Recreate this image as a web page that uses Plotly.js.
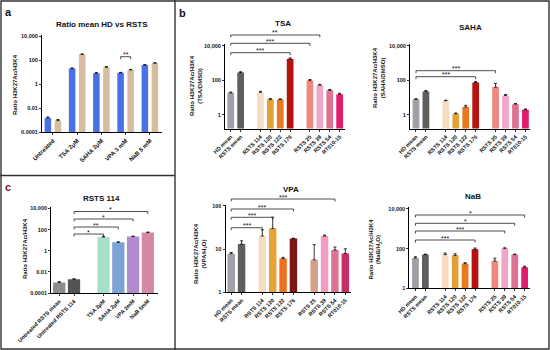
<!DOCTYPE html>
<html><head><meta charset="utf-8">
<script src="https://cdn.plot.ly/plotly-3.0.1.min.js"></script>
<style>html,body{margin:0;padding:0;background:#fff}#chart{width:550px;height:350px}</style>
</head><body><div id="chart"></div>
<script>
// ---------- DATA ----------
// Panel a: Ratio mean HD vs RSTS
const aCategories = ["Untreated", "TSA 2μM", "SAHA 2μM", "VPA 3 mM", "NaB 5 mM"];
const aHDValues = [0.0015, 20, 8, 8.5, 38];
const aHDErrors = [0.0003, 1.5, 0.8, 0.8, 3];
const aRSTSValues = [0.0009, 300, 25, 15, 55];
const aRSTSErrors = [0.0002, 20, 3, 1.5, 4];

// Panel c: RSTS 114
const cCategories = ["Untreated RSTS mean", "Untreated RSTS 114", "TSA 2μM", "SAHA 2μM", "VPA 2mM", "NaB 5mM"];
const cValues = [0.001, 0.002, 20, 6.3, 22, 54];
const cErrors = [0.0002, 0.0002, 3, 0.6, 2, 4];

// Panel b
const bCategories = ["HD mean", "RSTS mean", "RSTS 114", "RSTS 120", "RSTS 122", "RSTS 176", "RSTS 25", "RSTS 39", "RSTS 54", "RT010-15"];
const tsaValues = [18.5, 280, 20, 7.8, 7.6, 1700, 95, 52, 26, 15.5];
const tsaErrors = [2, 30, 2.5, 0.8, 0.6, 250, 15, 5, 3, 2];
const sahaValues = [7.8, 22, 6.5, 1.15, 2.8, 73, 40, 13.2, 4.1, 1.95];
const sahaErrors = [0.6, 3.5, 0.5, 0.1, 0.7, 12, 25, 1.5, 0.4, 0.2];
const vpaValues = [7.8, 13, 20, 30, 6, 17.5, 5.6, 20, 9.5, 7.9];
const vpaErrors = [0.5, 2.5, 8, 25, 0.4, 0.3, 7, 1, 1.6, 2.2];
const nabValues = [34, 50, 50, 46, 17.5, 92, 24, 105, 50, 11.5];
const nabErrors = [5, 3, 10, 9, 2, 15, 9, 4, 3, 1.5];

const logTickVals = [0.0001, 0.01, 1, 100, 10000];
const logTickText = ["0.0001", "0.01", "1", "100", "10,000"];
const bTickVals = [1, 100, 10000];
const bTickText = ["1", "100", "10,000"];
const vpaTickVals = [1, 10, 100];
const vpaTickText = ["1", "10", "100"];

// ---------- STYLE ----------
const W = 550, H = 350;
const F = "Liberation Sans, Arial, sans-serif";
const px = v => v / W;
const py = v => 1 - v / H;

const bColors = ['#a29fa9', '#5e5e5e', '#f6dcc0', '#e3a236', '#e8791f', '#b5130f', '#ee897f', '#f2a5c8', '#de7292', '#e21c6c'];
const vpaColors = ['#a29fa9', '#5e5e5e', '#f6dcc0', '#e7a238', '#ef7120', '#7c1713', '#d8a08a', '#f29cc4', '#de7292', '#c52e66'];
const cColors = ['#8c8c8c', '#545454', '#a6e0c9', '#7ca2d6', '#b38acb', '#d38aa2'];
const blue = '#4a6fe6', tan = '#d7bd9f';

const bCatArray = ["HD mean", "RSTS mean", "gap1", "RSTS 114", "RSTS 120", "RSTS 122", "RSTS 176", "gap2", "RSTS 25", "RSTS 39", "RSTS 54", "RT010-15"];
const cCatArray = [cCategories[0], cCategories[1], "gap", cCategories[2], cCategories[3], cCategories[4], cCategories[5]];

const errStyle = (arr) => ({type: 'data', array: arr, arrayminus: arr.map(() => 0), symmetric: false, color: '#000', thickness: 0.8, width: 1.5});

const tickFont = {family: F, size: 5.5, color: '#111', weight: 'bold'};
function xAxis(domain, range, anchor, catArray, tickVals, fontSize) {
  return {domain: domain, range: range, anchor: anchor, type: 'category',
    categoryorder: 'array', categoryarray: catArray, tickmode: 'array', tickvals: tickVals, ticktext: tickVals,
    showgrid: false, zeroline: false, showline: true, linecolor: '#000', linewidth: 1,
    ticks: 'outside', ticklen: 2, tickwidth: 0.8, tickcolor: '#000', tickangle: -45,
    tickfont: Object.assign({}, tickFont, {size: fontSize || 5.5}), fixedrange: true};
}
function yAxis(domain, range, anchor, tv, tt) {
  return {domain: domain, range: range, anchor: anchor, type: 'log',
    tickmode: 'array', tickvals: tv, ticktext: tt,
    showgrid: false, zeroline: false, showline: true, linecolor: '#000', linewidth: 1,
    ticks: 'outside', ticklen: 2, tickwidth: 0.8, tickcolor: '#000',
    tickfont: tickFont, fixedrange: true};
}

// ---------- TRACES ----------
const aW = 0.27, aOffBlue = -0.3425, aOffTan = 0.0725;
const traces = [
  {type: 'bar', x: aCategories, y: aHDValues, xaxis: 'x', yaxis: 'y', width: aW, offset: aOffBlue,
   marker: {color: blue}, error_y: errStyle(aHDErrors)},
  {type: 'bar', x: aCategories, y: aRSTSValues, xaxis: 'x', yaxis: 'y', width: aW, offset: aOffTan,
   marker: {color: tan}, error_y: errStyle(aRSTSErrors)},
  {type: 'bar', x: cCategories, y: cValues, xaxis: 'x2', yaxis: 'y2', width: 0.83,
   marker: {color: cColors}, error_y: errStyle(cErrors)},
  {type: 'bar', x: bCategories, y: tsaValues, xaxis: 'x3', yaxis: 'y3', width: 0.68,
   marker: {color: bColors}, error_y: errStyle(tsaErrors)},
  {type: 'bar', x: bCategories, y: sahaValues, xaxis: 'x4', yaxis: 'y4', width: 0.68,
   marker: {color: bColors}, error_y: errStyle(sahaErrors)},
  {type: 'bar', x: bCategories, y: vpaValues, xaxis: 'x5', yaxis: 'y5', width: 0.72,
   marker: {color: vpaColors}, error_y: errStyle(vpaErrors)},
  {type: 'bar', x: bCategories, y: nabValues, xaxis: 'x6', yaxis: 'y6', width: 0.68,
   marker: {color: bColors}, error_y: errStyle(nabErrors)}
];

// ---------- SHAPES / ANNOTATIONS ----------
const shapes = [];
const annotations = [];
const lineStyle = {color: '#333', width: 1.4};
shapes.push({type: 'rect', xref: 'paper', yref: 'paper', x0: px(1), x1: px(549), y0: py(349), y1: py(1), line: lineStyle});
shapes.push({type: 'line', xref: 'paper', yref: 'paper', x0: px(175), x1: px(175), y0: 0, y1: 1, line: lineStyle});
shapes.push({type: 'line', xref: 'paper', yref: 'paper', x0: 0, x1: px(175), y0: py(175.5), y1: py(175.5), line: lineStyle});

function bracket(xa, xL, xR, yPix, label) {
  const l = {color: '#222', width: 0.8};
  shapes.push({type: 'line', xref: xa, yref: 'paper', x0: xL, x1: xR, y0: py(yPix), y1: py(yPix), line: l});
  shapes.push({type: 'line', xref: xa, yref: 'paper', x0: xL, x1: xL, y0: py(yPix), y1: py(yPix + 2.5), line: l});
  shapes.push({type: 'line', xref: xa, yref: 'paper', x0: xR, x1: xR, y0: py(yPix), y1: py(yPix + 2.5), line: l});
  annotations.push({xref: xa, yref: 'paper', x: (xL + xR) / 2, y: py(yPix + 2.5), text: label, showarrow: false,
    xanchor: 'center', yanchor: 'bottom', borderpad: 0, font: {family: F, size: 7, color: '#111'}});
}
const bi = name => bCatArray.indexOf(name);
const ci = name => cCatArray.indexOf(name);

// panel a
const vIdx = aCategories.indexOf("VPA 3 mM");
bracket('x', vIdx + aOffBlue + aW / 2, vIdx + aOffTan + aW / 2, 56.7, '**');
// panel c
bracket('x2', ci(cCategories[1]), ci("TSA 2μM"), 234, '*');
bracket('x2', ci(cCategories[1]), ci("SAHA 2μM"), 227, '**');
bracket('x2', ci(cCategories[1]), ci("VPA 2mM"), 219, '*');
bracket('x2', ci(cCategories[1]), ci("NaB 5mM"), 211.5, '*');
// TSA
bracket('x3', bi("HD mean"), bi("RSTS 176"), 52.7, '***');
bracket('x3', bi("HD mean"), bi("RSTS 25"), 43.3, '***');
bracket('x3', bi("HD mean"), bi("RSTS 39"), 35, '**');
// SAHA
bracket('x4', bi("HD mean"), bi("RSTS 176"), 76.7, '***');
bracket('x4', bi("HD mean"), bi("RSTS 25"), 70.7, '***');
// VPA
bracket('x5', bi("HD mean"), bi("RSTS 114"), 227.7, '***');
bracket('x5', bi("HD mean"), bi("RSTS 120"), 217.3, '***');
bracket('x5', bi("HD mean"), bi("RSTS 176"), 209, '***');
bracket('x5', bi("HD mean"), bi("RSTS 54"), 199, '***');
// NaB
bracket('x6', bi("HD mean"), bi("RSTS 176"), 240, '***');
bracket('x6', bi("HD mean"), bi("RSTS 39"), 231, '***');
bracket('x6', bi("HD mean"), bi("RSTS 54"), 223.3, '*');
bracket('x6', bi("HD mean"), bi("RT010-15"), 215, '*');

function text(x, y, t, size, opts) {
  annotations.push(Object.assign({xref: 'paper', yref: 'paper', x: px(x), y: py(y), text: t, showarrow: false,
    xanchor: 'center', yanchor: 'middle', borderpad: 0,
    font: {family: F, size: size, color: '#111', weight: 'bold'}}, opts || {}));
}
// panel letters
text(8, 12, 'a', 11, {font: {family: F, size: 11, color: '#111', weight: 'bold'}});
text(182, 13, 'b', 11, {font: {family: F, size: 11, color: '#111', weight: 'bold'}});
text(8, 187, 'c', 11, {font: {family: F, size: 11, color: '#8a1222', weight: 'bold'}});
// titles
text(102, 24, 'Ratio mean HD vs RSTS', 8);
text(101, 198, 'RSTS 114', 8);
text(283, 23, 'TSA', 8);
text(470, 27, 'SAHA', 8);
text(291, 190, 'VPA', 8);
text(473, 196, 'NaB', 8);
// y titles
text(15, 85, 'Ratio H3K27Ac/H3K4', 6, {textangle: -90});
text(25, 249, 'Ratio H3K27Ac/H3K4', 6, {textangle: -90});
text(196, 86, 'Ratio H3K27Ac/H3K4<br>(TSA/DMSO)', 6, {textangle: -90});
text(379, 78, 'Ratio H3K27Ac/H3K4<br>(SAHA/DMSO)', 6, {textangle: -90});
text(200, 254, 'Ratio H3K27Ac/H3K4<br>(VPA/H<sub>2</sub>O)', 6, {textangle: -90});
text(374.5, 249, 'Ratio H3K27Ac/H3K4<br>(NaB/H<sub>2</sub>O)', 6, {textangle: -90});

// ---------- LAYOUT ----------
const layout = {
  width: W, height: H, margin: {l: 0, r: 0, t: 0, b: 0},
  paper_bgcolor: '#fff', plot_bgcolor: 'rgba(0,0,0,0)', showlegend: false, barmode: 'overlay',
  font: {family: F, color: '#111'},
  xaxis: xAxis([px(42), px(162)], [-0.45, 4.5], 'y', aCategories, aCategories, 6),
  yaxis: yAxis([py(132), py(34.8)], [-4, 4.1], 'x', logTickVals, logTickText),
  xaxis2: xAxis([px(51.1), px(158.2)], [-0.55, 6.7], 'y2', cCatArray, cCategories, 5.5),
  yaxis2: yAxis([py(293), py(207.4)], [-4, 4.1], 'x2', logTickVals, logTickText),
  xaxis3: xAxis([px(225), px(344.6)], [-0.58, 11.5], 'y3', bCatArray, bCategories, 5.5),
  yaxis3: yAxis([py(128.5), py(44)], [-0.8, 4.1], 'x3', bTickVals, bTickText),
  xaxis4: xAxis([px(410), px(530.4)], [-0.6, 11.5], 'y4', bCatArray, bCategories, 5.5),
  yaxis4: yAxis([py(128.5), py(44)], [-0.8, 4.1], 'x4', bTickVals, bTickText),
  xaxis5: xAxis([px(225.5), px(350.5)], [-0.55, 11.5], 'y5', bCatArray, bCategories, 5.5),
  yaxis5: yAxis([py(292), py(204.7)], [0, 2.03], 'x5', vpaTickVals, vpaTickText),
  xaxis6: xAxis([px(409.3), px(529.6)], [-0.62, 11.5], 'y6', bCatArray, bCategories, 5.5),
  yaxis6: yAxis([py(288.3), py(207)], [0, 4.1], 'x6', bTickVals, bTickText),
  shapes: shapes, annotations: annotations
};
Plotly.newPlot('chart', traces, layout, {staticPlot: true, displayModeBar: false});
</script></body></html>
